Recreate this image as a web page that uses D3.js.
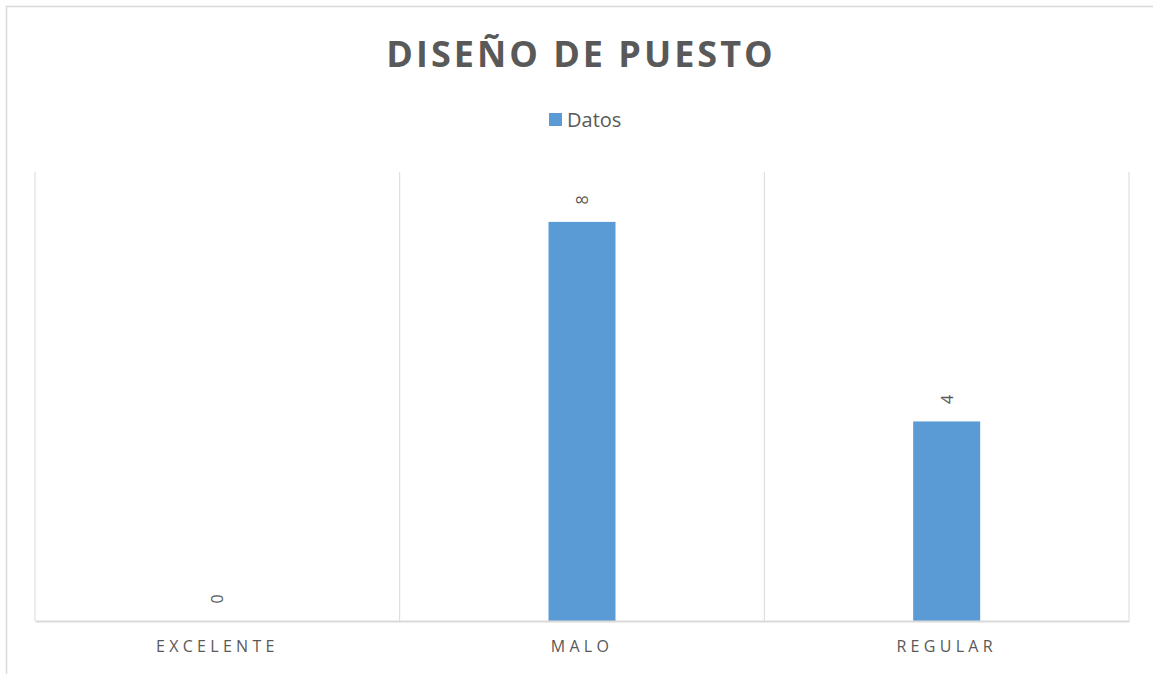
<!DOCTYPE html>
<html>
<head>
<meta charset="utf-8">
<script src="https://cdn.jsdelivr.net/npm/d3@7"></script>
<style>
  body { margin: 0; background: #fff; }
  svg { display: block; font-family: "Open Sans", "Liberation Sans", sans-serif; }
</style>
</head>
<body>
<svg id="chart"></svg>
<script>
var categories = ['EXCELENTE', 'MALO', 'REGULAR'];
var values = [0, 8, 4];
var seriesName = 'Datos';
var title = 'DISEÑO DE PUESTO';

var width = 1153, height = 674;
var plot = { left: 35, right: 1129, top: 172, bottom: 621 };

var svg = d3.select('#chart').attr('width', width).attr('height', height);

// chart border (only top and left visible in the picture)
svg.append('path')
  .attr('d', 'M6.5,' + height + 'V6.5H' + width)
  .attr('fill', 'none').attr('stroke', '#d9d9d9').attr('stroke-width', 1.5);

var x = d3.scaleBand().domain(categories).range([plot.left, plot.right]).paddingInner(0).paddingOuter(0);
var y = d3.scaleLinear().domain([0, 9]).range([plot.bottom, plot.top]);

// vertical gridlines at category boundaries
var bounds = categories.map(function(c) { return x(c); }).concat([plot.right]);
svg.append('g').selectAll('line').data(bounds).enter().append('line')
  .attr('x1', function(d) { return d; }).attr('x2', function(d) { return d; })
  .attr('y1', plot.top).attr('y2', plot.bottom)
  .attr('stroke', '#d9d9d9').attr('stroke-width', 1);

// bars
var barW = 67;
svg.append('g').selectAll('rect').data(values).enter().append('rect')
  .attr('x', function(d, i) { return x(categories[i]) + x.bandwidth() / 2 - barW / 2; })
  .attr('y', function(d) { return y(d); })
  .attr('width', barW)
  .attr('height', function(d) { return y(0) - y(d); })
  .attr('fill', '#5b9bd5');

// baseline axis
var axis = d3.axisBottom(x).tickSize(0).tickPadding(20);
var ax = svg.append('g').attr('transform', 'translate(0,' + plot.bottom + ')').call(axis);
ax.select('.domain').attr('stroke', '#d9d9d9').attr('stroke-width', 2);
ax.selectAll('text')
  .attr('fill', '#595959').style('font-size', '16px').style('letter-spacing', '4.3px')
  .style('font-family', '"Open Sans", sans-serif');

// data labels, rotated
svg.append('g').selectAll('text').data(values).enter().append('text')
  .attr('transform', function(d, i) {
    return 'translate(' + (x(categories[i]) + x.bandwidth() / 2) + ',' + (y(d) - 22) + ') rotate(-90)';
  })
  .attr('text-anchor', 'middle').attr('dominant-baseline', 'central')
  .attr('fill', '#595959').style('font-size', '16px')
  .text(function(d) { return d; });

// title
svg.append('text')
  .attr('x', 581).attr('y', 67)
  .attr('text-anchor', 'middle')
  .attr('fill', '#595959').style('font-size', '36px').style('font-weight', 'bold')
  .style('letter-spacing', '3px')
  .text(title);

// legend
var lg = svg.append('g').attr('transform', 'translate(549,113)');
lg.append('rect').attr('width', 13).attr('height', 13).attr('fill', '#5b9bd5');
lg.append('text').attr('x', 18).attr('y', 14)
  .attr('fill', '#595959').style('font-size', '20px')
  .text(seriesName);
</script>
</body>
</html>
